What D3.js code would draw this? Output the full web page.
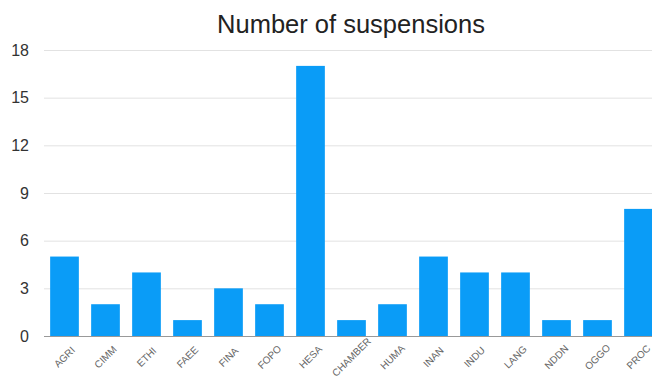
<!DOCTYPE html>
<html>
<head>
<meta charset="utf-8">
<script src="https://cdn.jsdelivr.net/npm/d3@7"></script>
<style>
  body { margin: 0; background: #fff; overflow: hidden; }
  svg { display: block; font-family: "Liberation Sans", Arial, sans-serif; }
</style>
</head>
<body>
<div id="chart"></div>
<script>
// data
var categories = ["AGRI", "CIMM", "ETHI", "FAEE", "FINA", "FOPO", "HESA", "CHAMBER",
                  "HUMA", "INAN", "INDU", "LANG", "NDDN", "OGGO", "PROC"];
var suspensions = [5, 2, 4, 1, 3, 2, 17, 1, 2, 5, 4, 4, 1, 1, 8];
var yTicks = [0, 3, 6, 9, 12, 15, 18];
var chartTitle = "Number of suspensions";

var width = 652, height = 379;

var data = categories.map(function (c, i) {
    return {name: c, value: suspensions[i]};
});

var svg = d3.select("#chart").append("svg")
    .attr("width", width)
    .attr("height", height);

// the plot runs off the right edge in the original
var xScale = d3.scaleBand()
    .domain(categories)
    .range([44, 659])
    .paddingInner(0.3)
    .paddingOuter(0.15);

var yScale = d3.scaleLinear()
    .domain([0, 18])
    .range([336, 50]);

// gridlines
svg.append("g").selectAll("line")
    .data(yTicks.filter(function (t) { return t > 0; }))
    .enter().append("line")
    .attr("x1", 44)
    .attr("x2", width)
    .attr("y1", function (d) { return yScale(d) + 0.5; })
    .attr("y2", function (d) { return yScale(d) + 0.5; })
    .attr("stroke", "#e2e2e2")
    .attr("stroke-width", 1);

// y labels
svg.append("g").selectAll("text")
    .data(yTicks)
    .enter().append("text")
    .attr("x", 29)
    .attr("y", function (d) { return yScale(d); })
    .attr("dy", "0.36em")
    .attr("text-anchor", "end")
    .attr("font-size", 16)
    .attr("fill", "#333")
    .text(function (d) { return d; });

// bars
svg.append("g").selectAll("rect")
    .data(data)
    .enter().append("rect")
    .attr("x", function (d) { return xScale(d.name); })
    .attr("width", xScale.bandwidth())
    .attr("y", function (d) { return yScale(d.value); })
    .attr("height", function (d) { return yScale(0) - yScale(d.value); })
    .attr("fill", "#0a9cf7");

// baseline
svg.append("line")
    .attr("x1", 44)
    .attr("x2", width)
    .attr("y1", yScale(0) + 0.5)
    .attr("y2", yScale(0) + 0.5)
    .attr("stroke", "#999")
    .attr("stroke-width", 1);

// x labels, tilted
svg.append("g").selectAll("text")
    .data(categories)
    .enter().append("text")
    .attr("transform", function (d) {
        var cx = xScale(d) + xScale.bandwidth() / 2;
        return "translate(" + cx + ",357) rotate(-45)";
    })
    .attr("text-anchor", "middle")
    .attr("dy", "0.35em")
    .attr("font-size", 10)
    .attr("fill", "#666")
    .text(function (d) { return d; });

// title
svg.append("text")
    .attr("x", 351)
    .attr("y", 33)
    .attr("text-anchor", "middle")
    .attr("font-size", 25.5)
    .attr("fill", "#222")
    .text(chartTitle);
</script>
</body>
</html>
